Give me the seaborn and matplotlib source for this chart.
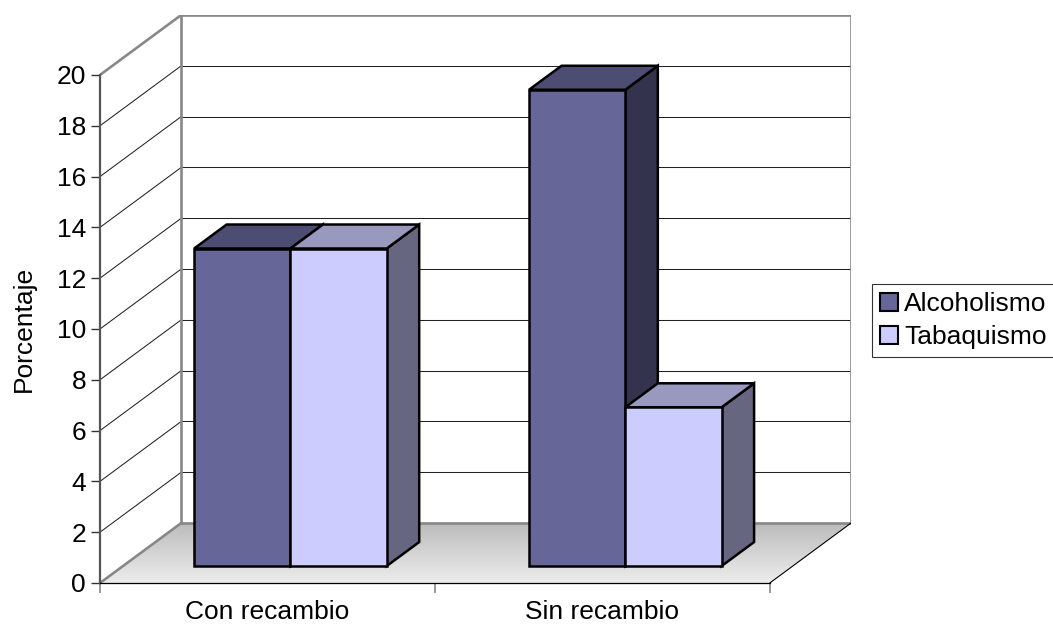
import numpy as np
import pandas as pd
import matplotlib
matplotlib.use("Agg")
import matplotlib.pyplot as plt
import seaborn as sns
from matplotlib.patches import Polygon, Patch
from matplotlib.colors import to_rgb, LinearSegmentedColormap

# ---- data ----
grupos = ["Con recambio", "Sin recambio"]
habitos = ["Alcoholismo", "Tabaquismo"]
alcoholismo = [12.5, 18.75]
tabaquismo = [12.5, 6.25]
y_ticks = [0, 2, 4, 6, 8, 10, 12, 14, 16, 18, 20]

df = pd.DataFrame({
    "grupo": grupos * 2,
    "habito": [habitos[0]] * len(grupos) + [habitos[1]] * len(grupos),
    "porcentaje": alcoholismo + tabaquismo,
})

colores = ["#666699", "#ccccff"]

# ---- style ----
sns.set_style("white")
plt.rcParams["font.family"] = ["Liberation Sans", "DejaVu Sans"]
for k in ("text.color", "axes.labelcolor", "xtick.color", "ytick.color"):
    plt.rcParams[k] = "black"
FS = 19

W, H = 1053, 628
fig = plt.figure(figsize=(W / 100, H / 100), dpi=100)
fig.patch.set_facecolor("white")

# axes box spans front-left floor corner to the top-right corner of the back wall
left_px, right_px, bottom_px, top_px = 100, 851, 583, 15
ax = fig.add_axes([left_px / W, 1 - bottom_px / H,
                   (right_px - left_px) / W, (bottom_px - top_px) / H])
ax.set_facecolor("none")

DX = 0.2425      # depth shift (category units)
DY = 2.36        # depth shift (percent units)
Y_MAX = 20
X0, X1 = -0.5, len(grupos) - 0.5

WALL = "#888888"
EDGE_LW = 1.8

# ---- bars (front faces) ----
sns.barplot(data=df, x="grupo", y="porcentaje", hue="habito",
            hue_order=habitos, palette=colores, saturation=1,
            width=0.575, errorbar=None, edgecolor="black",
            linewidth=EDGE_LW, legend=False, ax=ax)

# ---- walls and floor ----
left_wall = Polygon([(X0, 0), (X0, Y_MAX), (X0 + DX, Y_MAX + DY), (X0 + DX, DY)],
                    closed=True, facecolor="white", edgecolor="none", zorder=0.5)
ax.add_patch(left_wall)
back_wall = Polygon([(X0 + DX, DY), (X0 + DX, Y_MAX + DY),
                     (X1 + DX, Y_MAX + DY), (X1 + DX, DY)],
                    closed=True, facecolor="white", edgecolor="none", zorder=0.5)
ax.add_patch(back_wall)

floor = Polygon([(X0, 0), (X1, 0), (X1 + DX, DY), (X0 + DX, DY)],
                closed=True, facecolor="none", edgecolor="none", zorder=1)
ax.add_patch(floor)
cmap = LinearSegmentedColormap.from_list("piso", ["#ededed", "#bcbcbc"])
grad = ax.imshow(np.linspace(0, 1, 256).reshape(-1, 1), cmap=cmap,
                 extent=[X0, X1 + DX, 0, DY], origin="lower",
                 aspect="auto", zorder=1, interpolation="bilinear")
grad.set_clip_path(floor)

# gridlines on back and left walls
for v in y_ticks[1:-1]:
    ax.plot([X0 + DX, X1 + DX], [v + DY, v + DY], color="#222222", lw=0.75, zorder=2)
    ax.plot([X0, X0 + DX], [v, v + DY], color="#222222", lw=0.75, zorder=2)

# wall outlines
wall_kw = dict(color=WALL, lw=1.9, zorder=3, solid_capstyle="projecting")
ax.plot([X0 + DX, X1 + DX, X1 + DX, X0 + DX, X0 + DX],
        [DY, DY, Y_MAX + DY, Y_MAX + DY, DY], **wall_kw)
ax.plot([X0, X0 + DX], [Y_MAX, Y_MAX + DY], **wall_kw)
ax.plot([X0, X0 + DX], [0, DY], **wall_kw)
ax.plot([X1, X1 + DX], [0, DY], color="black", lw=0.8, zorder=3)

# ---- 3D bar bodies ----
F0 = 0.283   # depth where bar fronts sit
BD = 0.40    # bar depth
fx, fy = F0 * DX, F0 * DY
bx, by = BD * DX, BD * DY

def shade(color, k):
    r, g, b = to_rgb(color)
    return (r * k, g * k, b * k)

for j, cont in enumerate(ax.containers):
    base_z = 10 + 3 * j
    for patch in cont:
        x0 = patch.get_x() + fx
        w = patch.get_width()
        h = patch.get_height()
        patch.set_x(x0)
        patch.set_y(fy)
        patch.set_zorder(base_z + 2)
        patch.set_joinstyle("miter")
        x1 = x0 + w
        top = fy + h
        face = colores[j]
        side = Polygon([(x1, fy), (x1, top), (x1 + bx, top + by), (x1 + bx, fy + by)],
                       closed=True, facecolor=shade(face, 0.5), edgecolor="black",
                       lw=EDGE_LW, joinstyle="miter", zorder=base_z)
        cap = Polygon([(x0, top), (x1, top), (x1 + bx, top + by), (x0 + bx, top + by)],
                      closed=True, facecolor=shade(face, 0.75), edgecolor="black",
                      lw=EDGE_LW, joinstyle="miter", zorder=base_z + 1)
        ax.add_patch(side)
        ax.add_patch(cap)

# ---- axes ----
ax.set_xlim(X0, X1 + DX)
ax.set_ylim(0, Y_MAX + DY)

for s in ("top", "right"):
    ax.spines[s].set_visible(False)
ax.spines["left"].set_bounds(0, Y_MAX)
ax.spines["left"].set_color("#555555")
ax.spines["left"].set_linewidth(1.6)
ax.spines["left"].set_zorder(4)
ax.spines["bottom"].set_bounds(X0, X1)
ax.spines["bottom"].set_color("black")
ax.spines["bottom"].set_linewidth(0.9)
ax.spines["bottom"].set_zorder(4)

ax.set_yticks(y_ticks)
ax.set_yticklabels([str(v) for v in y_ticks])
ax.tick_params(axis="y", left=True, length=6.5, width=1.0, color="#333333",
               pad=3.5, labelsize=FS, direction="out")

ax.set_xticks([X0 + i for i in range(len(grupos) + 1)])
ax.set_xticklabels([])
ax.set_xticks(list(range(len(grupos))), minor=True)
ax.set_xticklabels(grupos, minor=True)
ax.tick_params(axis="x", which="major", bottom=True, length=7, width=1.2,
               color=WALL, direction="out")
ax.tick_params(axis="x", which="minor", bottom=True, length=0, pad=12,
               labelsize=FS)
ax.set_xlabel("")
ax.set_ylabel("")
ax.grid(False)

fig.text(24 / W, 1 - 329 / H, "Porcentaje", rotation=90, ha="center",
         va="center", fontsize=FS)

handles = [Patch(facecolor=c, edgecolor="black", lw=1.5, label=h)
           for c, h in zip(colores, habitos)]
leg = fig.legend(handles=handles, loc="upper left",
                 bbox_to_anchor=(872 / W, 1 - 284 / H), frameon=True,
                 fancybox=False, edgecolor="black", fontsize=FS,
                 handlelength=0.68, handleheight=0.68, handletextpad=0.23,
                 borderpad=0.3, labelspacing=0.36, borderaxespad=0)
leg.get_frame().set_linewidth(0.8)

fig.savefig("out.png", dpi=100, facecolor="white")
